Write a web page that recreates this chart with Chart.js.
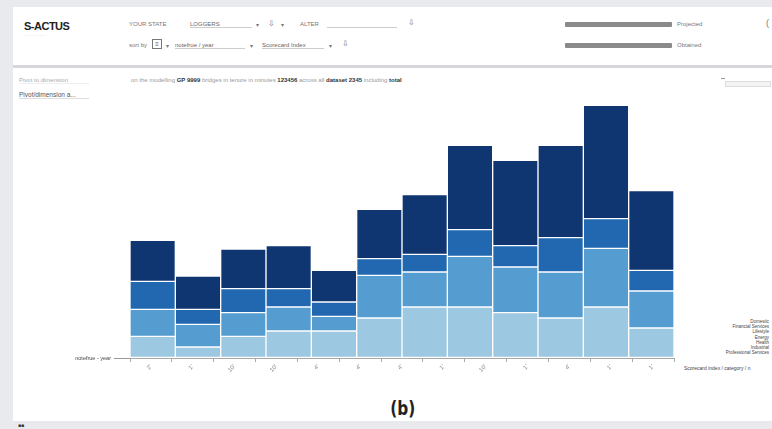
<!DOCTYPE html>
<html>
<head>
<meta charset="utf-8">
<script src="https://cdn.jsdelivr.net/npm/chart.js@4"></script>
<style>
  body { margin: 0; width: 772px; height: 429px; background: #e9eaee; font-family: "Liberation Sans", Arial, sans-serif; position: relative; overflow: hidden; }
  .abs { position: absolute; white-space: nowrap; }
  .panel { position: absolute; background: #fff; }
  .tiny { font-size: 6px; color: #777; }
  .sel { border-bottom: 1px solid #ccc; color: #666; font-size: 6px; }
  .bar { position: absolute; height: 5px; background: #8a8a8a; border-radius: 1px; }
  #chart { position: absolute; left: 0; top: 0; }
</style>
</head>
<body>
<div class="panel" style="left:13px;top:7px;width:759px;height:58px;"></div>
<div class="abs" style="left:13px;top:65px;width:759px;height:3px;background:#d6d7db;"></div>
<div class="panel" style="left:13px;top:68px;width:759px;height:353px;"></div>

<!-- header -->
<div class="abs" style="left:24px;top:20px;font-size:11px;font-weight:bold;color:#222;letter-spacing:-0.5px;">S-ACTUS</div>
<div class="abs tiny" style="left:25px;top:32px;font-size:4px;color:#bbb;">- - - - - - - - -</div>
<div class="abs tiny" style="left:129px;top:21px;">YOUR STATE</div>
<div class="abs sel" style="left:190px;top:21px;width:62px;">LOGGERS</div>
<div class="abs tiny" style="left:256px;top:21px;">▾</div>
<div class="abs tiny" style="left:268px;top:19px;font-size:8px;">⇩</div>
<div class="abs tiny" style="left:281px;top:21px;">▾</div>
<div class="abs tiny" style="left:300px;top:21px;">ALTER</div>
<div class="abs sel" style="left:327px;top:21px;width:70px;color:#ccc;">&nbsp;</div>
<div class="abs tiny" style="left:408px;top:18px;font-size:8px;">⇩</div>
<div class="abs tiny" style="left:129px;top:42px;">sort by</div>
<div class="abs" style="left:152px;top:39px;width:8px;height:8px;border:1px solid #777;font-size:6px;line-height:8px;text-align:center;color:#555;">≡</div>
<div class="abs tiny" style="left:166px;top:42px;">▾</div>
<div class="abs sel" style="left:175px;top:42px;width:70px;">notefrue / year</div>
<div class="abs tiny" style="left:250px;top:42px;">▾</div>
<div class="abs sel" style="left:262px;top:42px;width:62px;">Scorecard Index</div>
<div class="abs tiny" style="left:329px;top:42px;">▾</div>
<div class="abs tiny" style="left:342px;top:39px;font-size:8px;">⇩</div>
<div class="bar" style="left:565px;top:22px;width:107px;"></div>
<div class="abs tiny" style="left:677px;top:21px;">Projected</div>
<div class="bar" style="left:565px;top:43px;width:107px;"></div>
<div class="abs tiny" style="left:677px;top:42px;">Obtained</div>
<div class="abs tiny" style="left:766px;top:18px;font-size:9px;">(</div>

<!-- panel texts -->
<div class="abs tiny" style="left:19px;top:77px;color:#aaa;border-bottom:1px solid #eee;width:70px;">Pivot to dimension</div>
<div class="abs" style="left:19px;top:91px;font-size:6.5px;color:#555;border-bottom:1px solid #ddd;width:70px;">Pivot/dimension a...</div>
<div class="abs tiny" style="left:131px;top:77px;color:#999;">on the modelling <b style="color:#333">GP 9999</b> bridges in tenure in minutes <b style="color:#333">123456</b> across all <b style="color:#333">dataset 2345</b> including <b style="color:#333">total</b></div>
<div class="abs" style="left:721px;top:78px;width:4px;height:1px;background:#999;"></div>
<div class="abs" style="left:725px;top:81px;width:44px;height:4px;border:1px solid #ddd;background:#f4f4f4;"></div>

<!-- right side labels -->
<div class="abs tiny" style="right:3px;top:319px;font-size:4.5px;line-height:5.2px;text-align:right;color:#444;">Domestic<br>Financial Services<br>Lifestyle<br>Energy<br>Health<br>Industrial<br>Professional Services</div>
<div class="abs tiny" style="left:684px;top:365px;font-size:5px;color:#444;">Scorecard index / category / n</div>

<div class="abs" style="left:388px;top:396px;font-size:20px;font-weight:bold;color:#222;font-family:'DejaVu Sans Condensed',sans-serif;transform:scaleX(0.85);">(b)</div>
<div class="abs" style="left:18px;top:422px;font-size:5px;color:#333;">■■</div>

<canvas id="chart" width="772" height="429"></canvas>
<script>
const categories = ['1','2','3','4','5','6','7','8','9','10','11','12'];
const edgeLabels = ["2'", "1'", "10'", "10'", "4'", "4'", "4'", "1'", "10'", "1'", "4'", "1'", "1'"];
const seriesNames = ['Base', 'Medium', 'High', 'Top'];
const baseVals   = [6.5, 3.3, 6.5, 8.1, 8.1, 12.0, 15.3, 15.3, 13.6, 12.0, 15.3, 9.0];
const mediumVals = [8.1, 6.8, 7.1, 7.2, 4.4, 12.8, 10.5, 15.2, 13.7, 13.8, 17.6, 11.1];
const highVals   = [8.4, 4.5, 7.2, 5.5, 4.3, 5.0, 5.3, 8.0, 6.4, 10.3, 8.9, 6.2];
const topVals    = [12.3, 10.0, 11.9, 12.9, 9.5, 14.8, 17.9, 25.3, 25.6, 27.7, 34.0, 23.9];
const colors = ['#9dc8e2', '#559cd1', '#2168b0', '#0f3671'];
const yLabel = 'notefrue - year';

const allVals = [baseVals, mediumVals, highVals, topVals];

new Chart(document.getElementById('chart'), {
    type: 'bar',
    data: {
        labels: categories,
        datasets: allVals.map((vals, i) => ({
            label: seriesNames[i],
            data: vals,
            backgroundColor: colors[i],
            borderColor: 'rgba(255,255,255,0.5)',
            borderWidth: 1,
            borderSkipped: false,
            barPercentage: 1,
            categoryPercentage: 1
        }))
    },
    options: {
        responsive: false,
        devicePixelRatio: 1,
        animation: false,
        layout: { padding: { left: 60, right: 98, top: 100, bottom: 31 } },
        plugins: { legend: { display: false }, tooltip: { enabled: false } },
        scales: {
            x: { stacked: true, display: false },
            x2: {
                type: 'linear', position: 'bottom', min: 0, max: 12,
                afterFit: s => { s.height = 40; },
                border: { display: true, color: '#aaa' },
                grid: { drawOnChartArea: false, tickLength: 4, color: '#aaa' },
                ticks: {
                    stepSize: 1, autoSkip: false, minRotation: 45, maxRotation: 45,
                    font: { size: 6 }, color: '#888', padding: 1,
                    callback: v => edgeLabels[v]
                }
            },
            y: {
                stacked: true, min: 0, max: 77.4,
                afterFit: s => { s.width = 70; },
                afterBuildTicks: s => { s.ticks = [{ value: 0 }]; },
                border: { display: false },
                grid: { drawOnChartArea: false, tickLength: 16, color: '#999' },
                ticks: { font: { size: 5.5 }, color: '#444', padding: 3, callback: () => yLabel }
            }
        }
    }
});
</script>
</body>
</html>
